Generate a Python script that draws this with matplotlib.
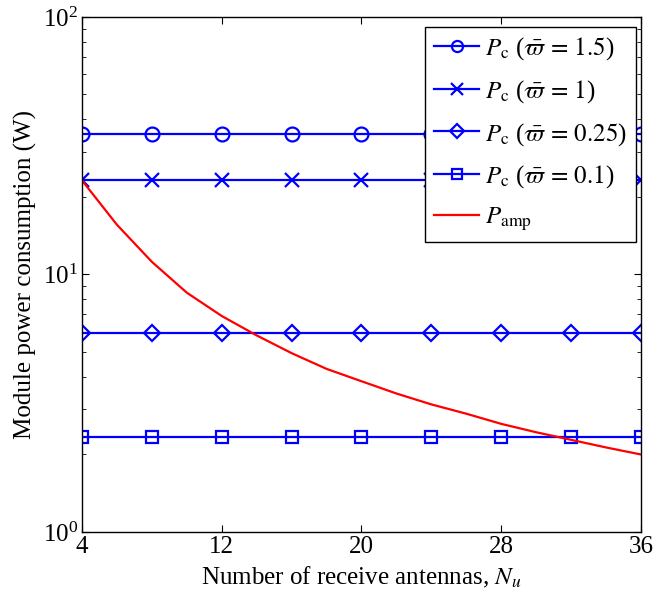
import numpy as np
import matplotlib.pyplot as plt

plt.rcParams['font.family'] = ['Liberation Serif', 'DejaVu Serif']
plt.rcParams['mathtext.fontset'] = 'stix'

# data
n_markers = [4, 8, 12, 16, 20, 24, 28, 32, 36]
pc_15 = [35.2] * len(n_markers)
pc_1 = [23.2] * len(n_markers)
pc_025 = [5.9] * len(n_markers)
pc_01 = [2.34] * len(n_markers)

n_amp = [4, 6, 8, 10, 12, 14, 16, 18, 20, 22, 24, 26, 28, 30, 32, 34, 36]
p_amp = [23.2, 15.6, 11.2, 8.5, 6.9, 5.8, 4.95, 4.3, 3.85, 3.45, 3.13,
         2.88, 2.63, 2.44, 2.28, 2.13, 2.00]

fig = plt.figure(figsize=(6.58, 6.04), dpi=100)
ax = fig.add_axes([0.1246, 0.1192, 0.8495, 0.8527])

mk = dict(color='blue', lw=1.6, ms=10, mfc='none', mew=1.6)
ax.plot(n_markers, pc_15, marker='o', label=r'$P_{\rm c}$ ($\bar{\varpi}\,=\,1.5$)', **mk)
ax.plot(n_markers, pc_1, marker='x', label=r'$P_{\rm c}$ ($\bar{\varpi}\,=\,1$)', **mk)
ax.plot(n_markers, pc_025, marker='D', label=r'$P_{\rm c}$ ($\bar{\varpi}\,=\,0.25$)',
        **{**mk, 'ms': 8.5})
ax.plot(n_markers, pc_01, marker='s', label=r'$P_{\rm c}$ ($\bar{\varpi}\,=\,0.1$)',
        **{**mk, 'ms': 8.5})
ax.plot(n_amp, p_amp, color='red', lw=1.6, label=r'$P_{\rm amp}$')

ax.set_yscale('log')
ax.set_xlim(4, 36)
ax.set_ylim(1, 100)
ax.set_xticks([4, 12, 20, 28, 36])
ax.tick_params(which='both', direction='in', top=True, right=True, labelsize=18)
ax.tick_params(which='major', length=5, pad=3)
ax.tick_params(which='minor', length=3)
for s in ax.spines.values():
    s.set_linewidth(1.0)

ax.set_xlabel(r'Number of receive antennas, $N_u$', fontsize=18, labelpad=5)
ax.set_ylabel('Module power consumption (W)', fontsize=18, labelpad=4)

leg = ax.legend(loc='upper right', bbox_to_anchor=(0.991, 0.981), borderaxespad=0,
                fontsize=18, fancybox=False, edgecolor='black', framealpha=1,
                handlelength=1.8, handletextpad=0.25, labelspacing=0.63,
                borderpad=0.35, markerscale=0.8)
leg.get_frame().set_linewidth(1.0)

fig.savefig('out.png', dpi=100)
